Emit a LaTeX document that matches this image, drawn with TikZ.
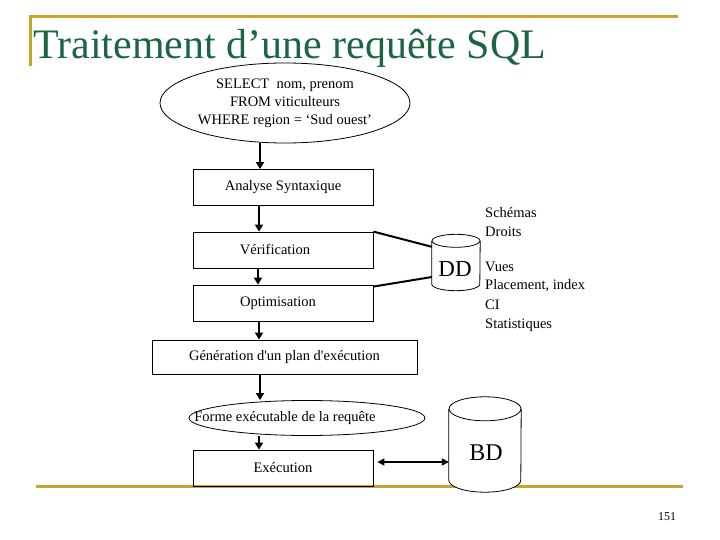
\documentclass[tikz,border=0pt]{standalone}
\usepackage{fontspec}
\setmainfont{Liberation Serif}
\usetikzlibrary{shapes.geometric,arrows.meta}
\definecolor{titlegreen}{HTML}{1B6641}
\definecolor{gold}{HTML}{C6A532}
\tikzset{
  stepbox/.style={draw, thick, minimum width=180pt, minimum height=36pt, inner sep=0pt, font=\fontsize{14.5}{16}\selectfont},
  flow/.style={line width=1.8pt, -{Triangle[length=7pt,width=8pt]}},
  link/.style={line width=2pt},
  cyl/.style={draw, thick},
  lbl/.style={font=\fontsize{14.5}{16}\selectfont, inner sep=0pt},
}
\begin{document}
\begin{tikzpicture}[x=1pt,y=-1pt]
\useasboundingbox (0,0) rectangle (720,540);
% frame decoration
\draw[gold, line width=3pt] (29,17) -- (678,17);
\draw[gold, line width=3pt] (30,17) -- (30,66);
\draw[gold, line width=3pt] (36,486) -- (683,486);
\node[anchor=base west, text=titlegreen, font=\fontsize{42}{44}\selectfont, inner sep=0pt] (title) at (33,59) {Traitement d’une requête SQL};
\node[font=\fontsize{12}{14}\selectfont, inner sep=0pt] (page) at (667,517) {151};
% query ellipse
\node[ellipse, draw, thick, minimum width=250pt, minimum height=80pt, inner sep=0pt, align=center, font=\fontsize{14.5}{18}\selectfont, fill=white] (query) at (285,103) {SELECT\ \ nom, prenom\\FROM viticulteurs\\WHERE region = ‘Sud ouest’};
% boxes
\node[stepbox] (analyse) at (283,187.5) {Analyse Syntaxique};
\node[stepbox] (verif) at (283,250) {\hspace*{-16pt}Vérification};
\node[stepbox] (optim) at (283,303) {\hspace*{-10pt}Optimisation};
\node[stepbox, minimum width=265pt, minimum height=34pt] (gen) at (284.5,357) {Génération d\textquotesingle un plan d\textquotesingle exécution};
\node[ellipse, draw, thick, minimum width=236pt, minimum height=35pt, inner sep=0pt, font=\fontsize{14.5}{16}\selectfont] (forme) at (307,418) {\makebox[0pt]{\hspace*{-44pt}Forme exécutable de la requête}};
\node[stepbox] (exec) at (283,468) {Exécution};
% DD cylinder body
\node[minimum width=48pt, minimum height=43pt, inner sep=0pt] (dd) at (456,262.5) {};
\fill[white] (dd.north west) -- (dd.south west) arc[start angle=180, end angle=0, x radius=24, y radius=6.5] -- (dd.north east) -- cycle;
\draw[cyl] (dd.north west) -- (dd.south west) arc[start angle=180, end angle=0, x radius=24, y radius=6.5] -- (dd.north east);
\draw[cyl] (dd.north) ellipse[x radius=24, y radius=6.5];
\node[font=\fontsize{23}{25}\selectfont, inner sep=0pt] (ddlabel) at (455,269) {DD};
% BD cylinder body
\node[minimum width=72pt, minimum height=71pt, inner sep=0pt] (bd) at (485,444.5) {};
\fill[white] (bd.north west) -- (bd.south west) arc[start angle=180, end angle=0, x radius=36, y radius=12] -- (bd.north east) -- cycle;
\draw[cyl] (bd.north west) -- (bd.south west) arc[start angle=180, end angle=0, x radius=36, y radius=12] -- (bd.north east);
\draw[cyl] (bd.north) ellipse[x radius=36, y radius=12];
\node[font=\fontsize{24}{26}\selectfont, inner sep=0pt] (bdlabel) at (486,453) {BD};
% DD contents
\node[lbl, anchor=west] (schemas) at (485,213) {Schémas};
\node[lbl, anchor=west] (droits) at (485,232) {Droits};
\node[lbl, anchor=west] (vues) at (485,267) {Vues};
\node[lbl, anchor=west] (placement) at (485,286) {Placement, index};
\node[lbl, anchor=west] (ci) at (485,305) {CI};
\node[lbl, anchor=west] (stats) at (485,325) {Statistiques};
% flow arrows
\draw[flow] (query.south -| 260,0) -- (analyse.north -| 260,0);
\draw[flow] (analyse.south -| 259,0) -- (verif.north -| 259,0);
\draw[flow] (verif.south -| 258,0) -- (optim.north -| 258,0);
\draw[flow] (optim.south -| 259,0) -- (gen.north -| 259,0);
\draw[flow] (gen.south -| 260,0) -- (forme.north -| 260,0);
\draw[flow] (forme.south -| 259,0) -- (exec.north -| 259,0);
% links to DD
\draw[link] (verif.north east) -- ([yshift=-6pt]dd.north west);
\draw[link] ([yshift=-2pt]optim.north east) -- ([yshift=-14.5pt]dd.west);
% BD <-> Exécution
\draw[line width=1.5pt, {Triangle[length=7pt,width=7pt]}-{Triangle[length=7pt,width=7pt]}] ([xshift=4pt,yshift=6pt]exec.east) -- ([yshift=-17.5pt]bd.west);
\end{tikzpicture}
\end{document}
